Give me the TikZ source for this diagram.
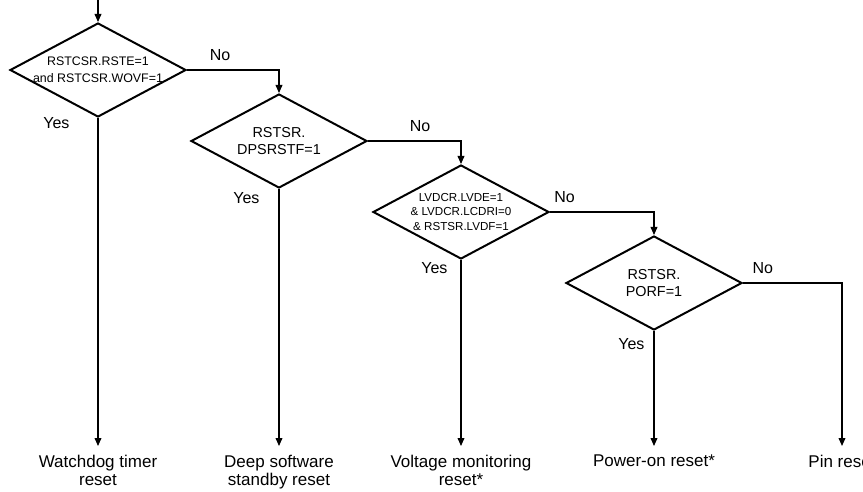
\documentclass[tikz,border=0pt]{standalone}
\usepackage{fontspec}
\setmainfont{Liberation Sans}
\usetikzlibrary{shapes.geometric,arrows.meta,positioning}

\begin{document}
\begin{tikzpicture}[
    x=0.5pt, y=-0.5pt,
    decision/.style={
        diamond,
        draw=black,
        line width=1pt,
        inner sep=0pt,
        minimum width=88pt,
        minimum height=47pt
    },
    cond/.style={align=center, inner sep=0pt, font=\fontsize{6.2}{8.5}\selectfont},
    condbig/.style={cond, font=\fontsize{7.2}{8.5}\selectfont},
    condsmall/.style={cond, font=\fontsize{5.8}{7.2}\selectfont},
    result/.style={
        anchor=north,
        align=center,
        inner xsep=0pt,
        inner ysep=4.3pt,
        font=\fontsize{8.5}{9}\selectfont
    },
    answer/.style={inner sep=0pt, font=\fontsize{8}{9}\selectfont},
    arrow/.style={-{Triangle[length=4pt,width=3.4pt]}, line width=0.6pt}
]

\useasboundingbox (0,0) rectangle (863,492);

% Entry
\coordinate (start) at (98,0);

% Decisions
\node[decision, label={[cond]center:{RSTCSR.RSTE=1\\and RSTCSR.WOVF=1}}] (wdt) at (98,70) {};
\node[decision, label={[condbig]center:{RSTSR.\\DPSRSTF=1}}] (dps) at (279,141) {};
\node[decision, label={[condsmall]center:{LVDCR.LVDE=1\\\& LVDCR.LCDRI=0\\\& RSTSR.LVDF=1}}] (lvd) at (461,212) {};
\node[decision, label={[condbig]center:{RSTSR.\\PORF=1}}] (por) at (654,283) {};

% Reset sources
\node[result] (wdtres) at (98,446) {Watchdog timer\\reset};
\node[result] (dpsres) at (279,446) {Deep software\\standby reset};
\node[result] (lvdres) at (461,446) {Voltage monitoring\\reset*};
\node[result] (porres) at (654,446) {Power-on reset*};
\node[result] (pinres) at (842,446) {Pin reset};

% Entry arrow
\draw[arrow] (start) -- (wdt.north);

% No branches
\draw[arrow] (wdt.east) -| node[answer, pos=0.18, above=4.5pt] {No} (dps.north);
\draw[arrow] (dps.east) -| node[answer, pos=0.28, above=4.5pt] {No} (lvd.north);
\draw[arrow] (lvd.east) -| node[answer, pos=0.07, above=4.5pt] {No} (por.north);
\draw[arrow] (por.east) -| node[answer, pos=0.1, above=4.5pt] {No} (pinres.north);

% Yes branches
\draw[arrow] (wdt.south) -- node[answer, pos=0.015, left=14pt] {Yes} (wdtres.north);
\draw[arrow] (dps.south) -- node[answer, pos=0.035, left=9.5pt] {Yes} (dpsres.north);
\draw[arrow] (lvd.south) -- node[answer, pos=0.043, left=6.5pt] {Yes} (lvdres.north);
\draw[arrow] (por.south) -- node[answer, pos=0.11, left=4.5pt] {Yes} (porres.north);

\end{tikzpicture}
\end{document}
